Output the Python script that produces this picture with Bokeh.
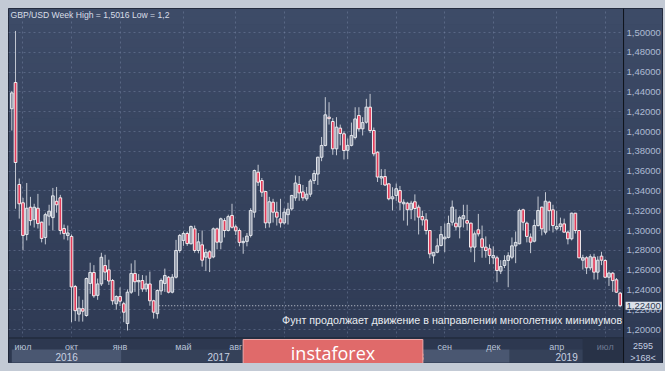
from bokeh.plotting import figure
from bokeh.models import Range1d, FixedTicker, Label, Span, ColumnDataSource
from bokeh.core.properties import value
from bokeh.embed import file_html
from bokeh.resources import INLINE

# ---- weekly GBP/USD candles (week of 13 Jun 2016 .. week of 29 Jul 2019) ----
opens = [1.4230, 1.4495, 1.3465, 1.3280, 1.2960, 1.3235, 1.3110, 1.3225, 1.3084, 1.2930,
         1.3145, 1.3130, 1.3295, 1.3330, 1.3020, 1.2950, 1.2940, 1.2434, 1.2155, 1.2210,
         1.2141, 1.2465, 1.2576, 1.2345, 1.2461, 1.2646, 1.2603, 1.2495, 1.2260, 1.2333,
         1.2260, 1.2060, 1.2377, 1.2566, 1.2482, 1.2495, 1.2410, 1.2460, 1.2290, 1.2160,
         1.2390, 1.2465, 1.2528, 1.2377, 1.2528, 1.2798, 1.2900, 1.2970, 1.2866, 1.3017,
         1.2798, 1.2855, 1.2730, 1.2785, 1.2733, 1.3017, 1.2882, 1.3100, 1.3000, 1.3152,
         1.3037, 1.3000, 1.2877, 1.2890, 1.2950, 1.3185, 1.3589, 1.3505, 1.3394, 1.3077,
         1.3286, 1.3185, 1.3118, 1.3077, 1.3160, 1.3218, 1.3330, 1.3465, 1.3390, 1.3320,
         1.3367, 1.3505, 1.3570, 1.3740, 1.3859, 1.4145, 1.4101, 1.3825, 1.4034, 1.3977,
         1.3810, 1.3860, 1.3940, 1.4162, 1.4027, 1.4094, 1.4246, 1.4010, 1.3791, 1.3530,
         1.3545, 1.3471, 1.3320, 1.3354, 1.3404, 1.3270, 1.3276, 1.3210, 1.3290, 1.3236,
         1.3141, 1.3108, 1.3000, 1.2744, 1.2780, 1.2848, 1.2916, 1.2930, 1.3084, 1.3074,
         1.3037, 1.3118, 1.3100, 1.3074, 1.2832, 1.3007, 1.2916, 1.2832, 1.2815, 1.2724,
         1.2724, 1.2590, 1.2647, 1.2697, 1.2730, 1.2845, 1.2866, 1.3209, 1.3074, 1.2933,
         1.2892, 1.3050, 1.3236, 1.2983, 1.3286, 1.3209, 1.3017, 1.3040, 1.3067, 1.2983,
         1.2916, 1.3175, 1.3000, 1.2700, 1.2724, 1.2623, 1.2731, 1.2579, 1.2741, 1.2697,
         1.2528, 1.2569, 1.2502, 1.2367]
highs = [1.4410, 1.5016, 1.3525, 1.3330, 1.3480, 1.3340, 1.3270, 1.3370, 1.3090, 1.3180,
         1.3260, 1.3430, 1.3440, 1.3360, 1.3060, 1.3050, 1.2960, 1.2450, 1.2335, 1.2300,
         1.2525, 1.2675, 1.2650, 1.2515, 1.2775, 1.2755, 1.2705, 1.2510, 1.2345, 1.2425,
         1.2280, 1.2405, 1.2667, 1.2700, 1.2560, 1.2550, 1.2545, 1.2585, 1.2300, 1.2405,
         1.2515, 1.2615, 1.2540, 1.2560, 1.2905, 1.2965, 1.2990, 1.2990, 1.3050, 1.3050,
         1.2975, 1.3000, 1.2815, 1.2800, 1.3030, 1.3030, 1.3130, 1.3125, 1.3160, 1.3270,
         1.3060, 1.3020, 1.2930, 1.2975, 1.3225, 1.3615, 1.3664, 1.3530, 1.3400, 1.3340,
         1.3320, 1.3290, 1.3320, 1.3225, 1.3280, 1.3360, 1.3556, 1.3550, 1.3460, 1.3440,
         1.3520, 1.3610, 1.3745, 1.3945, 1.4347, 1.4296, 1.4135, 1.4145, 1.4070, 1.4000,
         1.3930, 1.4090, 1.4245, 1.4245, 1.4145, 1.4330, 1.4380, 1.4040, 1.3800, 1.3620,
         1.3620, 1.3480, 1.3437, 1.3475, 1.3450, 1.3315, 1.3290, 1.3300, 1.3365, 1.3260,
         1.3200, 1.3175, 1.3005, 1.2780, 1.2920, 1.3045, 1.3071, 1.3150, 1.3303, 1.3215,
         1.3150, 1.3260, 1.3260, 1.3080, 1.2990, 1.3168, 1.3050, 1.2940, 1.2860, 1.2840,
         1.2745, 1.2700, 1.2750, 1.2780, 1.2930, 1.2990, 1.3220, 1.3220, 1.3090, 1.2970,
         1.3110, 1.3343, 1.3240, 1.3387, 1.3300, 1.3260, 1.3200, 1.3130, 1.3120, 1.3000,
         1.3180, 1.3176, 1.3000, 1.2755, 1.2740, 1.2760, 1.2765, 1.2740, 1.2785, 1.2710,
         1.2585, 1.2580, 1.2520, 1.2380]
lows = [1.4010, 1.3220, 1.3120, 1.2800, 1.2900, 1.3050, 1.3030, 1.3020, 1.2880, 1.2860,
        1.3050, 1.3000, 1.3180, 1.2960, 1.2910, 1.2900, 1.2074, 1.2085, 1.2080, 1.2080,
        1.2130, 1.2360, 1.2320, 1.2300, 1.2440, 1.2500, 1.2450, 1.2250, 1.2200, 1.2236,
        1.2074, 1.1990, 1.2360, 1.2380, 1.2340, 1.2380, 1.2380, 1.2240, 1.2110, 1.2110,
        1.2350, 1.2380, 1.2365, 1.2365, 1.2515, 1.2775, 1.2845, 1.2845, 1.2860, 1.2775,
        1.2770, 1.2635, 1.2590, 1.2580, 1.2720, 1.2810, 1.2810, 1.2930, 1.2990, 1.3020,
        1.2955, 1.2840, 1.2765, 1.2840, 1.2930, 1.3130, 1.3450, 1.3340, 1.3023, 1.3030,
        1.3080, 1.3050, 1.3030, 1.3060, 1.3060, 1.3200, 1.3300, 1.3300, 1.3300, 1.3300,
        1.3340, 1.3470, 1.3460, 1.3700, 1.3850, 1.4070, 1.3765, 1.3760, 1.3860, 1.3717,
        1.3720, 1.3850, 1.3920, 1.4000, 1.3960, 1.4080, 1.3985, 1.3750, 1.3490, 1.3460,
        1.3450, 1.3305, 1.3202, 1.3300, 1.3205, 1.3100, 1.3050, 1.3115, 1.3100, 1.2960,
        1.3050, 1.2960, 1.2720, 1.2665, 1.2770, 1.2840, 1.2781, 1.2920, 1.3050, 1.3000,
        1.2920, 1.3030, 1.3000, 1.2780, 1.2680, 1.2940, 1.2725, 1.2725, 1.2660, 1.2660,
        1.2478, 1.2560, 1.2620, 1.2427, 1.2710, 1.2670, 1.2860, 1.3000, 1.2880, 1.2771,
        1.2880, 1.3040, 1.2950, 1.2960, 1.3000, 1.2980, 1.3000, 1.3000, 1.2990, 1.2860,
        1.2900, 1.2970, 1.2720, 1.2605, 1.2560, 1.2600, 1.2505, 1.2505, 1.2650, 1.2520,
        1.2440, 1.2380, 1.2370, 1.2225]
closes = [1.4390, 1.3687, 1.3270, 1.2950, 1.3225, 1.3100, 1.3235, 1.3070, 1.2920, 1.3160,
          1.3195, 1.3350, 1.3260, 1.3000, 1.2970, 1.2975, 1.2430, 1.2190, 1.2215, 1.2185,
          1.2515, 1.2576, 1.2340, 1.2460, 1.2730, 1.2580, 1.2490, 1.2290, 1.2333, 1.2286,
          1.2175, 1.2377, 1.2566, 1.2482, 1.2495, 1.2410, 1.2460, 1.2290, 1.2175, 1.2394,
          1.2495, 1.2545, 1.2377, 1.2528, 1.2798, 1.2950, 1.2970, 1.2868, 1.3040, 1.2798,
          1.2885, 1.2700, 1.2780, 1.2720, 1.3017, 1.2882, 1.3118, 1.3000, 1.3140, 1.3033,
          1.2997, 1.2880, 1.2890, 1.2943, 1.3202, 1.3606, 1.3488, 1.3387, 1.3077, 1.3290,
          1.3185, 1.3135, 1.3077, 1.3185, 1.3215, 1.3354, 1.3480, 1.3380, 1.3330, 1.3367,
          1.3500, 1.3576, 1.3740, 1.3859, 1.4168, 1.4130, 1.3825, 1.4044, 1.3980, 1.3808,
          1.3860, 1.3960, 1.4127, 1.4027, 1.4090, 1.4246, 1.4010, 1.3775, 1.3540, 1.3545,
          1.3460, 1.3320, 1.3340, 1.3422, 1.3286, 1.3285, 1.3210, 1.3276, 1.3222, 1.3135,
          1.3108, 1.3000, 1.2764, 1.2780, 1.2845, 1.2960, 1.2933, 1.3071, 1.3236, 1.3037,
          1.3130, 1.3150, 1.3074, 1.2832, 1.2966, 1.2966, 1.2830, 1.2798, 1.2748, 1.2747,
          1.2596, 1.2636, 1.2697, 1.2745, 1.2845, 1.2880, 1.3202, 1.3084, 1.2940, 1.2882,
          1.3050, 1.3202, 1.3017, 1.3296, 1.3200, 1.3050, 1.3040, 1.3067, 1.2983, 1.2916,
          1.3175, 1.3000, 1.2724, 1.2725, 1.2623, 1.2735, 1.2579, 1.2700, 1.2700, 1.2528,
          1.2570, 1.2494, 1.2377, 1.2240]

# price axis ticks
price_ticks = [round(1.20 + 0.02 * k, 2) for k in range(16)]
price_labels = [f"{t:.5f}".replace(".", ",") for t in price_ticks]

# time axis: first weekly candle of each labelled month (candle index)
month_idx = [3, 16, 29, 46, 60, 73, 90, 103, 116, 129, 146, 159]
month_labels = ["июл", "окт", "янв", "май", "авг", "ноя", "мар", "июн", "сен", "дек", "апр", "июл"]
year_labels = ["2016", "2017", "2018", "2019"]
year_bounds = [0.0, 29.4, 81.4, 133.4, 163.9]

title_text = "GBP/USD Week High = 1,5016 Low = 1,2"
note_text = "Фунт продолжает движение в направлении многолетних минимумов"
logo_text = "instaforex"
bar_count = "2595"
bar_window = ">168<"

# ---- geometry helpers (reference pixel layout, page px) ----
PX0, DX = 11.3, 3.738          # page-x of candle 0, px per week
def vy(page_y):
    return 1.2 + (329.0 - page_y) / 990.0
def ix(page_x):
    return (page_x - PX0) / DX

BG = "#36445f"
STRIP = "#2d3850"
W, H = 655, 355
p = figure(width=W, height=H,
           x_range=Range1d(ix(8), ix(663)), y_range=Range1d(vy(363), vy(8)),
           output_backend="svg", toolbar_location=None,
           x_axis_location=None, y_axis_location="right",
           min_border_left=0, min_border_right=0, min_border_top=0, min_border_bottom=0,
           background_fill_color=BG, border_fill_color=BG,
           outline_line_color="#1b2130", outline_line_width=1)

# ---- vertical background gradient (decoration) ----
TOP_RGB, BOT_RGB = (61, 75, 103), (47, 59, 85)
NB = 42
edges = [8 + (337 - 8) * k / NB for k in range(NB + 1)]
grad_cols = []
for k in range(NB):
    t = k / (NB - 1)
    grad_cols.append("#%02x%02x%02x" % tuple(round(a + (b - a) * t) for a, b in zip(TOP_RGB, BOT_RGB)))
g_top = [vy(e) for e in edges[:-1]]
g_bot = [vy(e + 0.6) for e in edges[1:]]
px0, px1 = ix(624), ix(663)
p.quad(left=[ix(8)] * NB, right=[px0] * NB, top=g_top, bottom=g_bot,
       fill_color=grad_cols, line_color=None, level="image")

# price axis: its labels are drawn back over the right-hand price column
ax = p.yaxis[0]
ax.ticker = FixedTicker(ticks=price_ticks)
ax.major_label_overrides = dict(zip(price_ticks, price_labels))
ax.major_tick_line_color = None
ax.minor_tick_line_color = None
ax.major_tick_out = 0
ax.major_tick_in = 0
ax.axis_line_color = None
ax.major_label_standoff = -36
ax.major_label_text_color = "#aebbd3"
ax.major_label_text_font = "Liberation Sans"
ax.major_label_text_font_size = "9.5px"

for g, tk in ((p.ygrid, price_ticks), (p.xgrid, month_idx)):
    g.ticker = FixedTicker(ticks=tk)
    g.grid_line_color = "#7d8cab"
    g.grid_line_alpha = 0.45
    g.grid_line_dash = "2 3"
    g.grid_line_width = 1

# price column on the right, same gradient, drawn over the grid
p.quad(left=[px0] * NB, right=[px1] * NB, top=g_top, bottom=g_bot,
       fill_color=grad_cols, line_color=None)

# ---- candles ----
n = len(opens)
idx = list(range(n))
up = [c >= o for o, c in zip(opens, closes)]
src = ColumnDataSource(dict(
    x=idx, high=highs, low=lows,
    top=[max(o, c) for o, c in zip(opens, closes)],
    bottom=[min(o, c) for o, c in zip(opens, closes)],
    fill=["#8a92a3" if u else "#e23c5a" for u in up],
    line=["#e2e5eb" if u else "#f3eef0" for u in up],
))
p.segment(x0="x", y0="low", x1="x", y1="high", source=src, line_color="#c3c8d2", line_width=1)
p.vbar(x="x", width=0.72, top="top", bottom="bottom", source=src,
       fill_color="fill", line_color="line", line_width=1)

# dotted line at the last price, from the last week that traded below it
last = closes[-1]
last_label = f"{last:.5f}".replace(".", ",")
start = max(i for i in range(n - 1) if lows[i] < last) + 0.5
p.segment(x0=[start], y0=[last], x1=[n - 1], y1=[last],
          line_color="#cfd4dc", line_width=1, line_dash="1 2")

# texts inside the chart
p.text(x=[ix(10)], y=[vy(14)], text=[title_text], text_align="left", text_baseline="middle",
       text_color="#d9dee7", text_font=value("Liberation Sans"), text_font_size="8.6px")
p.text(x=[ix(282)], y=[vy(319)], text=[note_text], text_align="left", text_baseline="middle",
       text_color="#e8ebf0", text_font=value("Liberation Sans"), text_font_size="10.7px")

# ---- time strip at bottom ----
xs0 = ix(8)
p.quad(left=[xs0], right=[px1], top=[vy(337)], bottom=[vy(363)], fill_color=STRIP, line_color=None)
p.quad(left=[xs0], right=[px0], top=[vy(337)], bottom=[vy(338)], fill_color="#1d2433", line_color=None)
band_cols = ["#4a5771", "#354159", "#4a5771", "#354159"]
p.quad(left=year_bounds[:-1], right=year_bounds[1:], top=[vy(349)] * 4, bottom=[vy(362)] * 4,
       fill_color=band_cols, line_color=None)
nav_start = ix(583)
p.quad(left=[nav_start], right=[px0], top=[vy(338)], bottom=[vy(362)], fill_color="#283247", line_color=None)
month_cols = ["#6d7891" if m >= nav_start else "#b9c4d8" for m in month_idx]
p.text(x=month_idx, y=[vy(346)] * len(month_idx), text=month_labels, text_align="center",
       text_baseline="middle", text_color=month_cols, text_font=value("Liberation Sans"),
       text_font_size="9px")
year_mid = [(a + b) / 2 for a, b in zip(year_bounds[:-1], year_bounds[1:])]
p.text(x=year_mid, y=[vy(356)] * 4, text=year_labels, text_align="center", text_baseline="middle",
       text_color="#c9d2e2", text_font=value("Liberation Sans"), text_font_size="10px")

# bar counter under the price column
p.text(x=[ix(643.5)] * 2, y=[vy(345), vy(357)], text=[bar_count, bar_window], text_align="center",
       text_baseline="middle", text_color="#c4cee0", text_font=value("Liberation Sans"),
       text_font_size="9px")

# separator between chart and price column
p.add_layout(Span(location=px0, dimension="height", line_color="#0f131b", line_width=1))

# logo (drawn over the strip)
p.quad(left=[ix(243)], right=[ix(423)], top=[vy(339)], bottom=[vy(364)],
       fill_color="#e06a6a", line_color="#f0a8a8", line_width=1)
p.text(x=[ix(333)], y=[vy(352)], text=[logo_text], text_align="center", text_baseline="middle",
       text_color="#ffffff", text_font=value("Open Sans"), text_font_size="18px")

# last-price tag over the price column
p.add_layout(Label(x=ix(626), y=last, text=last_label,
                   text_align="left", text_baseline="middle", text_color="#2e3a52",
                   text_font="Liberation Sans", text_font_size="9.5px",
                   background_fill_color="#dde2ea", background_fill_alpha=1.0, padding=1))

html = file_html(p, INLINE)
style = "<style>html,body{margin:0 !important;padding:0 !important;}" \
        "body{padding:8px !important;background-color:#c3cad5 !important;box-sizing:border-box;}</style>"
html = html.replace("</head>", style + "</head>", 1)
open("out.html", "w").write(html)
